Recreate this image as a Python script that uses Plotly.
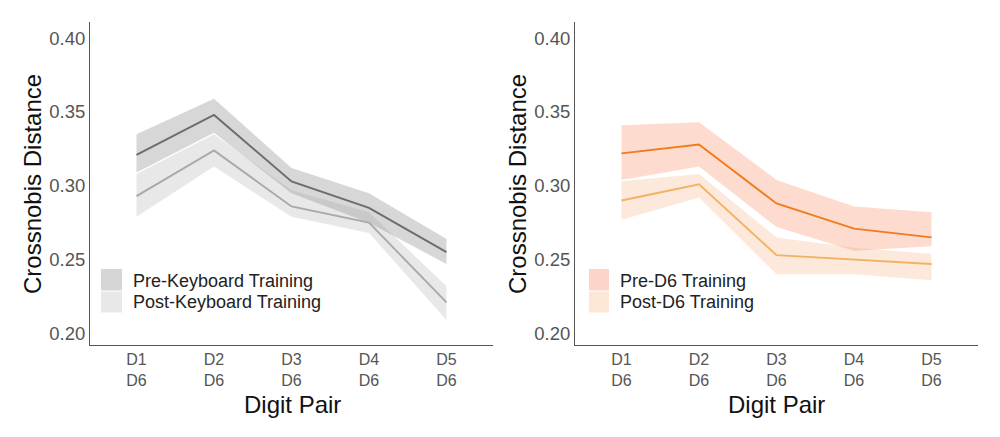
import plotly.graph_objects as go

# ---- data ----
pairs = ["D1<br>D6", "D2<br>D6", "D3<br>D6", "D4<br>D6", "D5<br>D6"]

pre_kb = [0.321, 0.348, 0.303, 0.285, 0.255]
pre_kb_hi = [0.335, 0.359, 0.312, 0.295, 0.264]
pre_kb_lo = [0.309, 0.336, 0.295, 0.275, 0.247]

post_kb = [0.293, 0.324, 0.286, 0.275, 0.221]
post_kb_hi = [0.308, 0.335, 0.297, 0.282, 0.232]
post_kb_lo = [0.279, 0.313, 0.279, 0.268, 0.209]

pre_d6 = [0.322, 0.328, 0.288, 0.271, 0.265]
pre_d6_hi = [0.341, 0.343, 0.304, 0.286, 0.282]
pre_d6_lo = [0.304, 0.313, 0.272, 0.256, 0.259]

post_d6 = [0.290, 0.301, 0.253, 0.250, 0.247]
post_d6_hi = [0.303, 0.308, 0.265, 0.258, 0.254]
post_d6_lo = [0.277, 0.292, 0.240, 0.240, 0.236]

legend_left = ["Pre-Keyboard Training", "Post-Keyboard Training"]
legend_right = ["Pre-D6 Training", "Post-D6 Training"]

FONT = "Liberation Sans"
W, H = 1000, 437
OFF = 8  # page body margin


def px(x):
    return (x - OFF) / W


def py(y):
    return 1 - (y - OFF) / H


fig = go.Figure()


def band(x, lo, hi, color, xa, ya):
    fig.add_trace(go.Scatter(
        x=list(x) + list(x)[::-1], y=list(hi) + list(lo)[::-1],
        fill="toself", fillcolor=color, line=dict(width=0),
        mode="lines", showlegend=False, hoverinfo="skip",
        xaxis=xa, yaxis=ya))


def line(x, y, color, xa, ya):
    fig.add_trace(go.Scatter(
        x=x, y=y, mode="lines", line=dict(color=color, width=1.9),
        showlegend=False, xaxis=xa, yaxis=ya))


gray_pre_fill = "rgba(150,150,150,0.38)"
gray_post_fill = "rgba(180,180,180,0.30)"
or_pre_fill = "rgba(250,145,110,0.33)"
or_post_fill = "rgba(248,182,135,0.30)"

band(pairs, post_kb_lo, post_kb_hi, gray_post_fill, "x", "y")
band(pairs, pre_kb_lo, pre_kb_hi, gray_pre_fill, "x", "y")
line(pairs, post_kb, "#a9a9a9", "x", "y")
line(pairs, pre_kb, "#6c6c6c", "x", "y")

band(pairs, post_d6_lo, post_d6_hi, or_post_fill, "x2", "y2")
band(pairs, pre_d6_lo, pre_d6_hi, or_pre_fill, "x2", "y2")
line(pairs, post_d6, "#f3b262", "x2", "y2")
line(pairs, pre_d6, "#f07c1c", "x2", "y2")

ydom = [py(345), py(22)]
yrange = [0.1921, 0.411]
xrange = [-0.6, 4.6]

common_x = dict(type="category", categoryorder="array", categoryarray=pairs,
                range=xrange, showline=True, linecolor="#555555", linewidth=1,
                showgrid=False, zeroline=False, ticks="",
                tickfont=dict(family=FONT, size=16, color="#555555"))
common_y = dict(range=yrange, domain=ydom, showline=True, linecolor="#555555",
                linewidth=1, showgrid=False, zeroline=False, ticks="",
                tickvals=[0.20, 0.25, 0.30, 0.35, 0.40], tickformat=".2f",
                tickfont=dict(family=FONT, size=18.5, color="#555555"))

fig.update_layout(
    width=W, height=H, margin=dict(l=0, r=0, t=0, b=0),
    paper_bgcolor="white", plot_bgcolor="white", showlegend=False,
    xaxis=dict(domain=[px(90), px(493)], anchor="y", **common_x),
    yaxis=dict(anchor="x", **common_y),
    xaxis2=dict(domain=[px(575), px(978)], anchor="y2", **common_x),
    yaxis2=dict(anchor="x2", **common_y),
)

anns = []
shapes = []
# axis titles
for cx, cy_title, cx_title in [(32, 184, 292), (517, 184, 776)]:
    anns.append(dict(x=px(cx), y=py(cy_title), xref="paper", yref="paper",
                     text="Crossnobis Distance", textangle=-90, showarrow=False,
                     font=dict(family=FONT, size=24, color="#111111"),
                     xanchor="center", yanchor="middle"))
    anns.append(dict(x=px(cx_title), y=py(404), xref="paper", yref="paper",
                     text="Digit Pair", showarrow=False,
                     font=dict(family=FONT, size=24, color="#111111"),
                     xanchor="center", yanchor="middle"))

# legends (drawn manually)
legend_specs = [
    (101, 122, 131, legend_left, ["rgb(214,214,214)", "rgb(232,232,232)"]),
    (589, 609, 618, legend_right, ["rgb(252,213,200)", "rgb(252,231,215)"]),
]
rows = [(269, 290.5, 280.5), (291.5, 312.5, 302)]
for x0, x1, tx, labels, cols in legend_specs:
    for (y0, y1, ty), lab, col in zip(rows, labels, cols):
        shapes.append(dict(type="rect", xref="paper", yref="paper",
                           x0=px(x0), x1=px(x1), y0=py(y1), y1=py(y0),
                           fillcolor=col, line=dict(width=0)))
        anns.append(dict(x=px(tx), y=py(ty), xref="paper", yref="paper",
                         text=lab, showarrow=False, xanchor="left", yanchor="middle",
                         font=dict(family=FONT, size=18, color="#222222")))

fig.update_layout(annotations=anns, shapes=shapes)
fig.write_html("out.html")
